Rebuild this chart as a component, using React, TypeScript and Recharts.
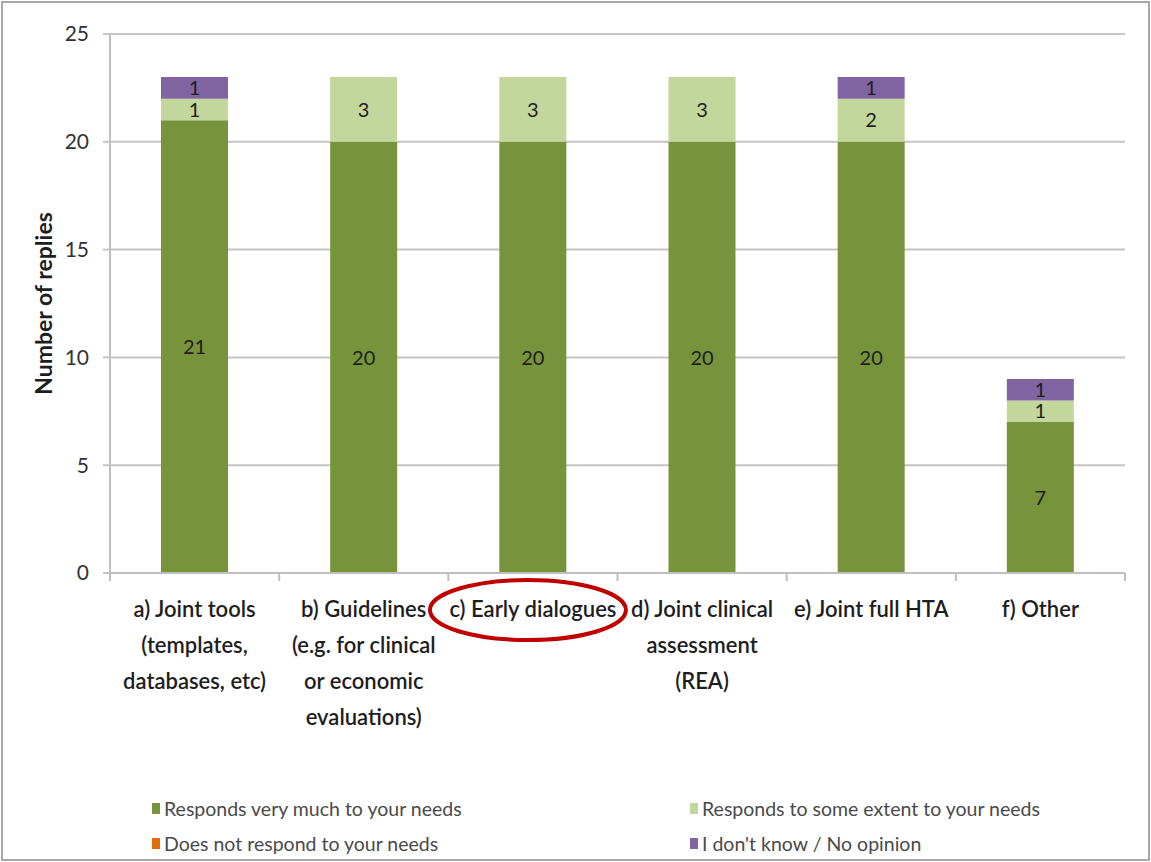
import React from "react";
import {
  Bar,
  BarChart,
  CartesianGrid,
  LabelList,
  XAxis,
  YAxis,
} from "recharts";

const categories = ["a", "b", "c", "d", "e", "f"];
const tickLines = [
  ["a) Joint tools", "(templates,", "databases, etc)"],
  ["b) Guidelines", "(e.g. for clinical", "or economic", "evaluations)"],
  ["c) Early dialogues"],
  ["d) Joint clinical", "assessment", "(REA)"],
  ["e) Joint full HTA"],
  ["f) Other"],
];
const veryMuch = [21, 20, 20, 20, 20, 7];
const someExtent = [1, 3, 3, 3, 2, 1];
const notRespond = [0, 0, 0, 0, 0, 0];
const dontKnow = [1, 0, 0, 0, 1, 1];
const yTicks = [0, 5, 10, 15, 20, 25];
const highlighted = "c";

const series = [
  { key: "veryMuch", name: "Responds very much to your needs", color: "#77933C" },
  { key: "someExtent", name: "Responds to some extent to your needs", color: "#C3D69B" },
  { key: "notRespond", name: "Does not respond to your needs", color: "#E46C0A" },
  { key: "dontKnow", name: "I don't know / No opinion", color: "#8064A2" },
];

const data = categories.map((c, i) => ({
  cat: c,
  veryMuch: veryMuch[i],
  someExtent: someExtent[i],
  notRespond: notRespond[i],
  dontKnow: dontKnow[i],
}));

const W = 1151;
const H = 862;
const PLOT_LEFT = 110;
const PLOT_RIGHT = 26;
const BAND = (W - PLOT_LEFT - PLOT_RIGHT) / categories.length;
const FONT = "Lato, 'Open Sans', sans-serif";

const CategoryTick = (props: any) => {
  const { x, y, payload } = props;
  const idx = categories.indexOf(payload.value);
  const lines = tickLines[idx] || [];
  return (
    <g>
      <line x1={x - BAND / 2} x2={x - BAND / 2} y1={y} y2={y + 8} stroke="#bfbfbf" strokeWidth={2} />
      {idx === categories.length - 1 && (
        <line x1={x + BAND / 2} x2={x + BAND / 2} y1={y} y2={y + 8} stroke="#bfbfbf" strokeWidth={2} />
      )}
      <text x={x} y={y + 44} textAnchor="middle" fontFamily={FONT} fontSize={22} fontWeight={600} fill="#1e1e1e">
        {lines.map((l, i) => (
          <tspan key={i} x={x} dy={i === 0 ? 0 : 36}>
            {l}
          </tspan>
        ))}
      </text>
      {payload.value === highlighted && (
        <ellipse cx={x - 5} cy={y + 37} rx={98} ry={30} fill="none" stroke="#C00000" strokeWidth={4} />
      )}
    </g>
  );
};

const hideZero = (v: any) => (v ? v : "");

export default function App() {
  return (
    <div style={{ position: "absolute", left: 0, top: 0, width: W, height: H, background: "#fff" }}>
      <div
        style={{
          position: "absolute",
          left: 1,
          top: 1,
          width: W - 6,
          height: H - 6,
          border: "2px solid #a8a8a8",
        }}
      />
      <div style={{ position: "absolute", left: 0, top: 0 }}>
        <BarChart
          width={W}
          height={H}
          data={data}
          margin={{ top: 34, right: PLOT_RIGHT, left: 0, bottom: 0 }}
          barSize={67}
        >
          <CartesianGrid vertical={false} stroke="#c4c4c4" strokeWidth={2} />
          <XAxis
            dataKey="cat"
            height={289}
            tick={<CategoryTick />}
            tickLine={false}
            tickSize={0}
            tickMargin={0}
            interval={0}
            axisLine={{ stroke: "#bfbfbf", strokeWidth: 2 }}
          />
          <YAxis
            width={PLOT_LEFT}
            domain={[0, 25]}
            ticks={yTicks}
            tickSize={7}
            tickMargin={14}
            tickLine={{ stroke: "#c4c4c4", strokeWidth: 2 }}
            axisLine={{ stroke: "#bfbfbf", strokeWidth: 2 }}
            tick={{ fontFamily: FONT, fontSize: 21, fill: "#333" }}
            label={({ viewBox }: any) => {
              const cy = viewBox.y + viewBox.height / 2;
              return (
                <text
                  x={43}
                  y={cy}
                  transform={`rotate(-90 43 ${cy})`}
                  textAnchor="middle"
                  dominantBaseline="central"
                  fontFamily={FONT}
                  fontWeight={700}
                  fontSize={23}
                  fill="#1e1e1e"
                >
                  Number of replies
                </text>
              );
            }}
          />
          {series.map((s) => (
            <Bar key={s.key} dataKey={s.key} name={s.name} stackId="a" fill={s.color} isAnimationActive={false}>
              <LabelList
                dataKey={s.key}
                position="center"
                formatter={hideZero}
                style={{ fontFamily: FONT, fontSize: 20, fill: "#1e1e1e" }}
              />
            </Bar>
          ))}
        </BarChart>
      </div>
      <div
        style={{
          position: "absolute",
          left: 152,
          top: 796,
          width: 940,
          display: "grid",
          gridTemplateColumns: "538px 400px",
          rowGap: 11,
          fontFamily: FONT,
          fontSize: 19.5,
          color: "#4a4a4a",
        }}
      >
        {series.map((s) => (
          <div key={s.key} style={{ display: "flex", alignItems: "center", height: 24 }}>
            <span style={{ display: "inline-block", width: 8, height: 11, background: s.color, marginRight: 4 }} />
            {s.name}
          </div>
        ))}
      </div>
    </div>
  );
}
